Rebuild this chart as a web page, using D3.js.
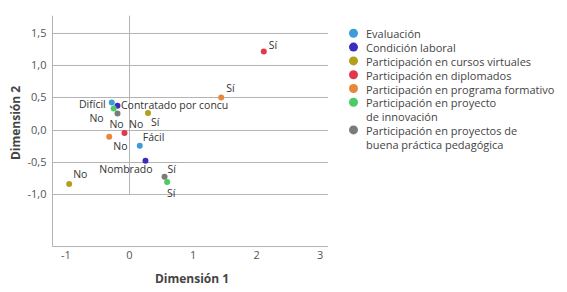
<!DOCTYPE html>
<html>
<head>
<meta charset="utf-8">
<script src="https://cdn.jsdelivr.net/npm/d3@7"></script>
<style>
  html, body { margin: 0; padding: 0; background: #fff; }
  svg { display: block; font-family: "Open Sans", "Noto Sans", sans-serif; }
</style>
</head>
<body>
<svg id="chart" width="567" height="292"></svg>
<script>
// ---- data ----
const seriesNames = [
  "Evaluación",
  "Condición laboral",
  "Participación en cursos virtuales",
  "Participación en diplomados",
  "Participación en programa formativo",
  "Participación en proyecto\nde innovación",
  "Participación en proyectos de\nbuena práctica pedagógica"
];
const seriesColors = ["#3d9bd8", "#3b2cbf", "#b39f18", "#e2384e", "#e8873a", "#4ccb68", "#7b7b7b"];

const pointSeries = [0, 0, 1, 1, 2, 2, 3, 3, 4, 4, 5, 5, 6, 6];
const pointLabels = ["Difícil", "Fácil", "Contratado por concu", "Nombrado", "Sí", "No", "Sí", "No", "Sí", "No", "No", "Sí", "No", "Sí"];
const dim1 = [-0.27, 0.17, -0.18, 0.26, 0.30, -0.94, 2.12, -0.07, 1.45, -0.31, -0.24, 0.60, -0.18, 0.56];
const dim2 = [0.42, -0.25, 0.37, -0.48, 0.26, -0.84, 1.21, -0.05, 0.50, -0.11, 0.33, -0.81, 0.25, -0.73];

const xTicks = [-1, 0, 1, 2, 3];
const yTicks = [-1, -0.5, 0, 0.5, 1, 1.5];
const xTitle = "Dimensión 1";
const yTitle = "Dimensión 2";

// ---- layout (label placement per point, not data) ----
const labelPlace = [
  {a: "end", dx: -6, dy: 1},     // Difícil
  {a: "start", dx: 3, dy: -9},   // Fácil
  {a: "start", dx: 3.5, dy: -0.5},// Contratado
  {a: "end", dx: 7, dy: 8.5},    // Nombrado
  {a: "start", dx: 3, dy: 9},    // cursos Sí
  {a: "start", dx: 4, dy: -10},  // cursos No
  {a: "start", dx: 5, dy: -7},   // diplomados Sí
  {a: "start", dx: 4.5, dy: -9}, // diplomados No
  {a: "start", dx: 5, dy: -9},   // programa Sí
  {a: "start", dx: 4, dy: 9},    // programa No
  {a: "end", dx: -10, dy: 9.5},  // innovación No
  {a: "start", dx: 0, dy: 10.5}, // innovación Sí
  {a: "middle", dx: -1, dy: 10.5},// buena práctica No
  {a: "start", dx: 3, dy: -8}    // buena práctica Sí
];

const svg = d3.select("#chart");
const pLeft = 52, pRight = 328, pTop = 15.7, pBottom = 245.7;

const x = d3.scaleLinear().domain([-1.21, 3.13]).range([pLeft, pRight]);
const y = d3.scaleLinear().domain([-1.796, 1.765]).range([pBottom, pTop]);

const loc = d3.formatLocale({decimal: ",", thousands: ".", grouping: [3], currency: ["", ""], minus: "-"});
const fmtY = loc.format(".1f");
const fmtX = loc.format("d");

const gridColor = "#b4b4b4";
const textColor = "#555";

// horizontal grid lines
svg.append("g").selectAll("line").data(yTicks).join("line")
  .attr("x1", pLeft).attr("x2", pRight)
  .attr("y1", d => Math.round(y(d)) + 0.5).attr("y2", d => Math.round(y(d)) + 0.5)
  .attr("stroke", gridColor).attr("stroke-width", 1);

// vertical zero line
svg.append("line")
  .attr("x1", Math.round(x(0)) + 0.5).attr("x2", Math.round(x(0)) + 0.5)
  .attr("y1", pTop).attr("y2", Math.round(y(-1)) + 0.5)
  .attr("stroke", gridColor).attr("stroke-width", 1);

// y axis
const yAxis = svg.append("g").attr("transform", `translate(${pLeft + 0.5},0)`)
  .call(d3.axisLeft(y).tickValues(yTicks).tickFormat(fmtY).tickSize(0).tickPadding(6));
yAxis.select(".domain").attr("stroke", gridColor).attr("d", `M0,${pTop}V${pBottom}`);
yAxis.selectAll("text").attr("fill", textColor).attr("font-size", "11px").attr("font-family", "Open Sans");

// x axis
const xAxis = svg.append("g").attr("transform", `translate(0,${Math.round(pBottom) + 0.5})`)
  .call(d3.axisBottom(x).tickValues(xTicks).tickFormat(fmtX).tickSize(0).tickPadding(5));
xAxis.select(".domain").attr("stroke", gridColor).attr("d", `M${pLeft},0H${pRight}`);
xAxis.selectAll("text").attr("fill", textColor).attr("font-size", "11px").attr("font-family", "Open Sans");

// axis titles
svg.append("text").attr("x", 192).attr("y", 278).attr("text-anchor", "middle")
  .attr("dominant-baseline", "central")
  .attr("font-size", "12px").attr("font-weight", "bold").attr("fill", "#444").text(xTitle);
svg.append("text").attr("transform", "translate(15,123) rotate(-90)").attr("text-anchor", "middle")
  .attr("dominant-baseline", "central")
  .attr("font-size", "12px").attr("font-weight", "bold").attr("fill", "#444").text(yTitle);

// points
const idx = d3.range(dim1.length);
svg.append("g").selectAll("circle").data(idx).join("circle")
  .attr("cx", i => x(dim1[i])).attr("cy", i => y(dim2[i])).attr("r", 3)
  .attr("fill", i => seriesColors[pointSeries[i]]);

// point labels
svg.append("g").selectAll("text").data(idx).join("text")
  .attr("x", i => x(dim1[i]) + labelPlace[i].dx)
  .attr("y", i => y(dim2[i]) + labelPlace[i].dy)
  .attr("text-anchor", i => labelPlace[i].a)
  .attr("dominant-baseline", "central")
  .attr("font-size", "10.5px").attr("fill", "#333")
  .text(i => pointLabels[i]);

// legend
const lineH = 13.8;
let row = 0;
const legend = svg.append("g");
seriesNames.forEach((name, i) => {
  const yy = 33.3 + row * lineH;
  legend.append("circle").attr("cx", 353.5).attr("cy", yy).attr("r", 4.5).attr("fill", seriesColors[i]);
  const lines = name.split("\n");
  const t = legend.append("text").attr("x", 366).attr("y", yy).attr("dominant-baseline", "central")
    .attr("font-size", "11px").attr("fill", "#444");
  lines.forEach((ln, k) => {
    t.append("tspan").attr("x", 366).attr("y", yy + k * lineH).text(ln);
  });
  row += lines.length;
});
</script>
</body>
</html>
